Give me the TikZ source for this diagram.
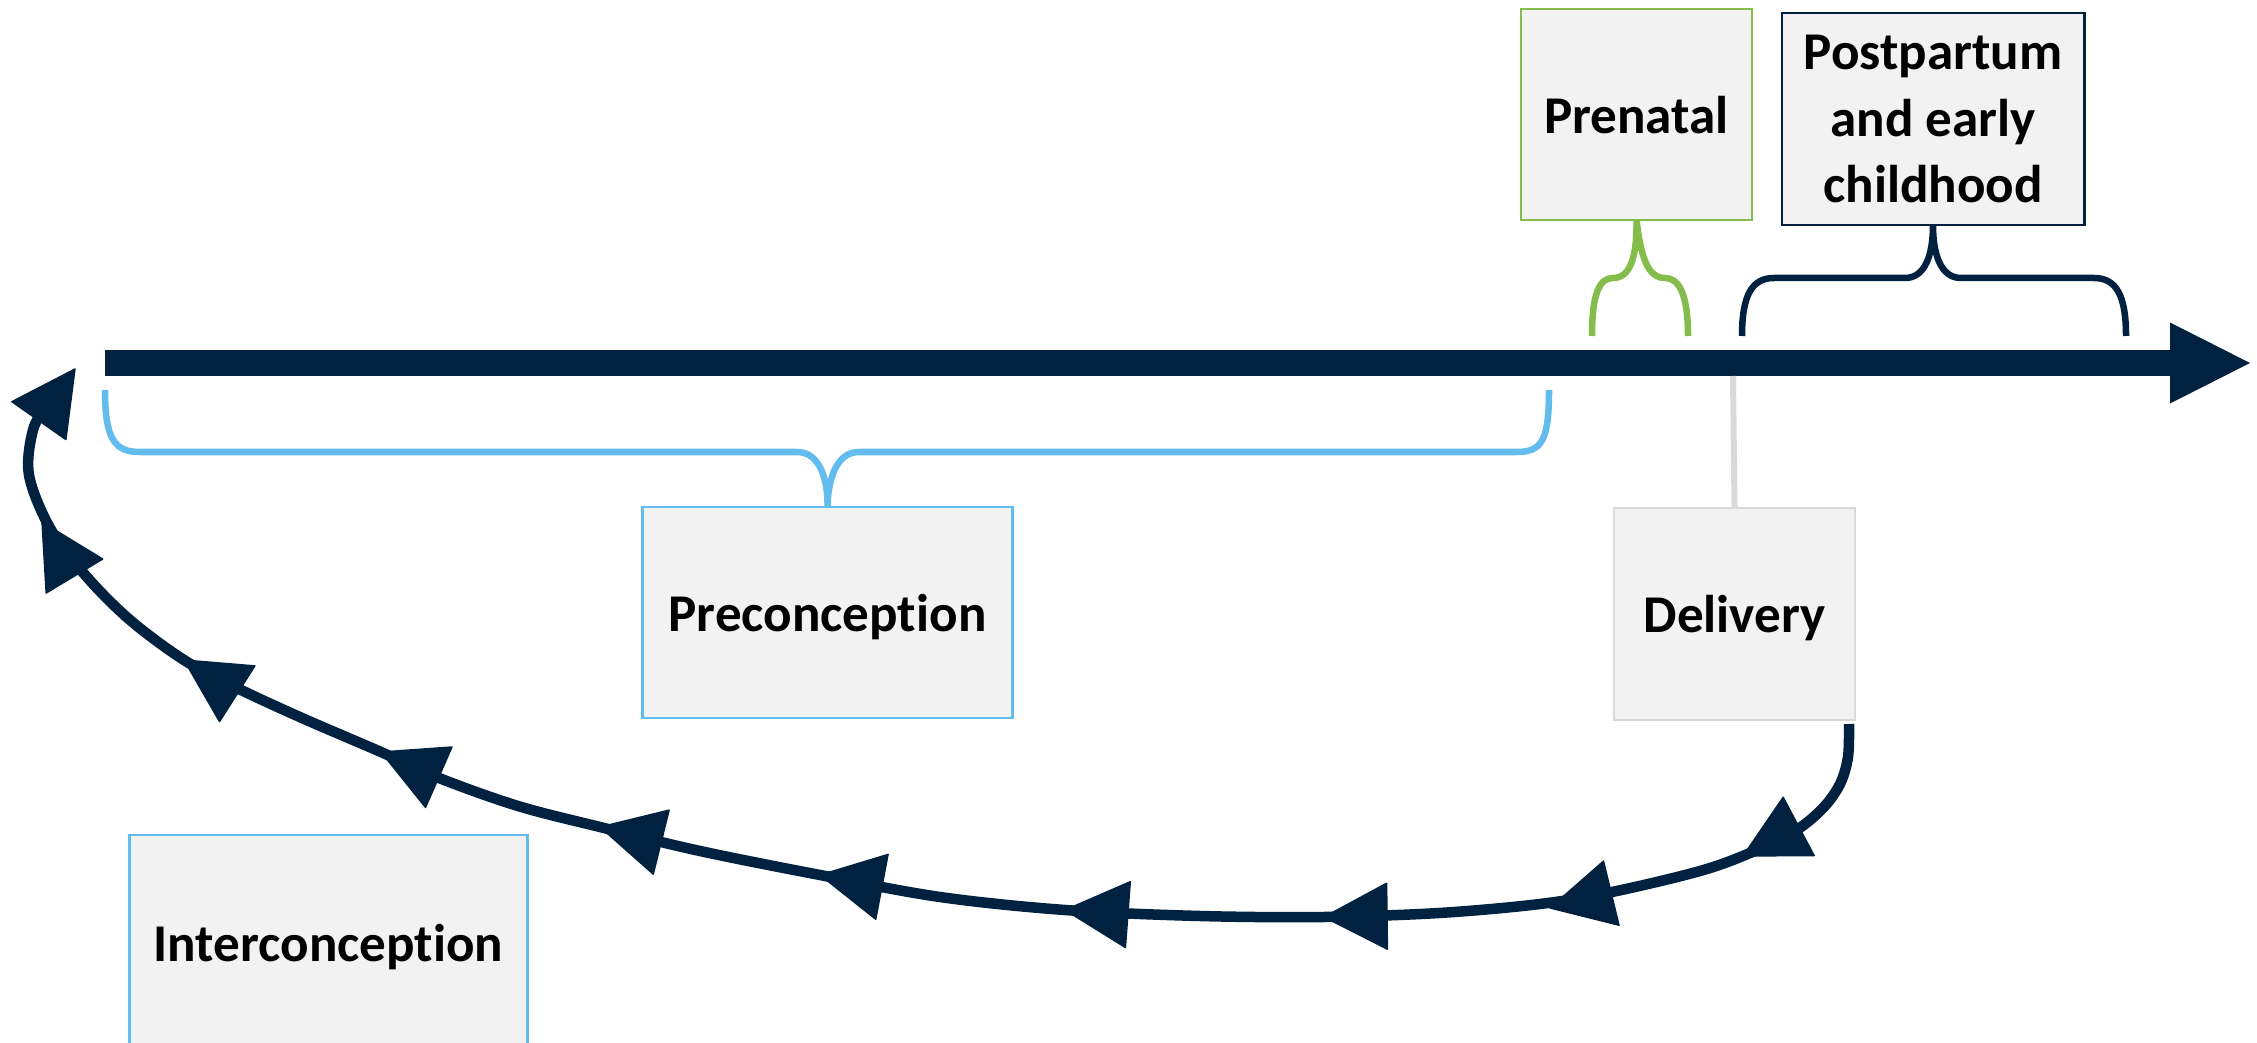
\documentclass[tikz,border=0pt]{standalone}
\usepackage{fontspec}
\setmainfont{Carlito}[Ligatures=NoCommon]
\usetikzlibrary{calc}

\definecolor{navy}{HTML}{00213F}
\definecolor{leaf}{HTML}{84BD4B}
\definecolor{sky}{HTML}{63BCEE}
\definecolor{ash}{HTML}{D9D9D9}
\definecolor{boxfill}{HTML}{F2F2F2}

\begin{document}
\begin{tikzpicture}[x=0.01cm,y=-0.01cm,
  phase/.style={draw, fill=boxfill, line width=0.8pt, inner sep=0pt, outer sep=0pt,
    font=\fontsize{15.1}{18.8}\selectfont\bfseries, align=center},
  oneline/.style={text depth=0pt},
  bracket/.style={line width=0.065cm},
  cycletip/.style={fill=navy, draw=navy, line width=0.4pt, line join=round}]
\useasboundingbox (0,0) rectangle (2257,1043);
\clip (0,0) rectangle (2257,1043);

% phase boxes
\node[phase, oneline, draw=leaf, minimum width=2.31cm, minimum height=2.11cm] (pren) at (1636.5,114.5) {Prenatal};
\node[phase, draw=navy, minimum width=3.02cm, minimum height=2.12cm] (post) at (1933,119) {Postpartum\\and early\\childhood};
\node[phase, oneline, draw=sky, minimum width=3.69cm, minimum height=2.11cm] (prec) at (827.5,612.5) {Preconception};
\node[phase, oneline, draw=ash, minimum width=2.41cm, minimum height=2.12cm] (deli) at (1734.5,614) {Delivery};
\node[phase, oneline, draw=sky, minimum width=3.97cm, minimum height=2.16cm] (inter) at (328.5,943) {Interconception};

% timeline
\coordinate (tstart) at (105,363);
\coordinate (tend) at (2170,363);
\coordinate (ttip) at (2250,363);
\draw[navy, line width=0.26cm] (tstart) -- (tend);
\fill[navy] (ttip) -- ($(tend)+(0,-40.5)$) -- ($(tend)+(0,40.5)$) -- cycle;

% delivery marker
\draw[ash, line width=0.06cm] (deli.north) -- (1733,376);

% brace under the preconception span
\draw[sky, bracket] (105,390) .. controls (105,440) and (115,452) .. (140,452)
  -- (797,452) .. controls (820,452) and (828,480) .. (prec.north)
  .. controls (828,480) and (836,452) .. (859,452)
  -- (1517,452) .. controls (1542,452) and (1549,440) .. (1549,390);

% brace over the prenatal span
\draw[leaf, bracket] (1592,336) .. controls (1592,292) and (1600,278) .. (1613,278)
  .. controls (1630,278) and (1637,258) .. (pren.south)
  .. controls (1641,258) and (1648,278) .. (1665,278)
  .. controls (1678,278) and (1688,292) .. (1688,336);

% brace over the postpartum span
\draw[navy, bracket] (1742,336) .. controls (1742,295) and (1752,278) .. (1774,278)
  -- (1905,278) .. controls (1925,278) and (1933,255) .. (post.south)
  .. controls (1933,255) and (1941,278) .. (1961,278)
  -- (2094,278) .. controls (2116,278) and (2126,295) .. (2126,336);

% cycle back from delivery to the start of the timeline
\coordinate (cstart) at (1849,724);
\coordinate (cend) at (62,385);
\draw[navy, line width=0.105cm] plot[smooth, tension=0.55] coordinates {
  (cstart) (1848,757) (1840,784) (1823,808) (1795,831) (1750,853) (1700,871)
  (1612,892) (1540,904) (1439,913)
  (1324,917) (1200,916) (1065,910) (940,897) (820,875) (700,851) (600,827)
  (518,806) (439,778) (381,752) (302,718) (237,688) (184,660) (130,620)
  (86,576) (50,528) (29,475) (33,430) (47,405) (cend)};

% arrowheads along the cycle (tip point, heading)
\foreach \tx/\ty/\ang in {1743/856/208, 1550/908/193.6, 1324/917/180.7,
    1065/910/175.8, 820/875/169.2, 600/827/166.1, 381/752/156.4,
    184/660/147.6, 42/522/121, 75/369/55} {
  \path[cycletip, shift={(\tx,\ty)}, rotate=\ang]
    (0,0) -- (-0.63cm,0.33cm) -- (-0.63cm,-0.33cm) -- cycle;
}
\end{tikzpicture}
\end{document}
